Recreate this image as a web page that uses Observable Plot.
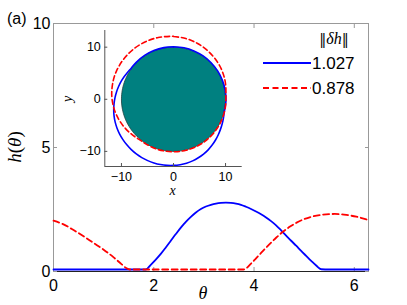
<!DOCTYPE html>
<html><head><meta charset="utf-8">
<script src="https://cdn.jsdelivr.net/npm/d3@7"></script>
<script src="https://cdn.jsdelivr.net/npm/@observablehq/plot@0.6"></script>
<style>
body{margin:0;background:#fff;}
#wrap{position:relative;width:407px;height:305px;overflow:hidden;background:#fff;}
#wrap svg{position:absolute;max-width:none;}
</style></head><body><div id="wrap"></div>
<script>
// ---- data ----
const blueTheta = [0,0.2,0.4,0.6,0.8,1.0,1.2,1.4,1.6,1.84,
  1.94,2.04,2.14,2.24,2.34,2.44,2.54,2.64,2.74,2.84,2.94,3.04,3.14,3.24,3.34,3.44,3.54,3.64,3.74,3.84,
  3.94,4.04,4.14,4.24,4.34,4.44,4.54,4.64,4.74,4.84,4.94,5.04,5.14,5.24,5.34,
  5.5,5.7,5.9,6.1,6.283];
const blueH = [0.08,0.08,0.08,0.08,0.08,0.08,0.08,0.08,0.08,0.08,
  0.27,0.48,0.71,0.97,1.24,1.51,1.77,2.0,2.2,2.38,2.52,2.62,2.69,2.74,2.77,2.78,2.77,2.74,2.69,2.61,
  2.52,2.42,2.31,2.18,2.03,1.86,1.66,1.45,1.24,1.04,0.83,0.63,0.43,0.24,0.09,
  0.08,0.08,0.08,0.08,0.08];
const redTheta = [0,0.2,0.4,0.6,0.8,1.0,1.2,1.35,1.45,1.52,
  1.7,1.9,2.1,2.3,2.5,2.7,2.9,3.1,3.3,3.5,3.7,3.79,
  3.94,4.04,4.17,4.31,4.44,4.57,4.71,4.84,5.01,5.17,5.37,5.61,5.84,6.04,6.24,6.283];
const redH = [2.05,1.90,1.67,1.42,1.15,0.88,0.57,0.31,0.14,0.08,
  0.08,0.08,0.08,0.08,0.08,0.08,0.08,0.08,0.08,0.08,0.08,0.08,
  0.32,0.53,0.81,1.10,1.36,1.59,1.80,1.96,2.12,2.22,2.29,2.32,2.28,2.21,2.10,2.07];
const seriesNorms = ["1.027", "0.878"];
const xTicks = [0, 2, 4, 6];
const yTicks = [0, 5, 10];
const insetTicks = [-10, 0, 10];
const baseRadius = 10;

// ---- styles ----
const BLUE = "#0000ff", RED = "#ff0000", TEAL = "#008080";
const DASH = "6,3.5";
const SANS = "'Liberation Sans', Arial, Helvetica, sans-serif";
const SERIF = "'Liberation Serif', 'Times New Roman', serif";

const blue = blueTheta.map((t, i) => ({t, h: blueH[i]}));
const red = redTheta.map((t, i) => ({t, h: redH[i]}));
const fmt = d3.format("d");

const wrap = document.getElementById("wrap");

// ---- main chart ----
const main = Plot.plot({
  width: 407, height: 305,
  marginLeft: 53, marginRight: 39, marginTop: 23, marginBottom: 34,
  style: {fontFamily: SANS, fontSize: "16px", background: "transparent", color: "#000"},
  x: {domain: [0, 2 * Math.PI]},
  y: {domain: [0, 10]},
  marks: [
    Plot.frame({stroke: "#999", strokeWidth: 1}),
    Plot.ruleY([0], {stroke: "#222", strokeWidth: 1}),
    Plot.axisX({ticks: xTicks, tickFormat: fmt, tickSize: -4, tickPadding: 12.6, fontSize: 16, stroke: "#999", fill: "#000", label: null}),
    Plot.axisX({anchor: "top", ticks: xTicks, tickSize: -4, tickFormat: () => "", stroke: "#999", label: null}),
    Plot.axisY({ticks: yTicks, tickFormat: fmt, tickSize: -4, tickPadding: 7, fontSize: 16, stroke: "#999", fill: "#000", label: null}),
    Plot.axisY({anchor: "right", ticks: yTicks, tickSize: -4, tickFormat: () => "", stroke: "#999", label: null}),
    Plot.line(blue, {x: "t", y: "h", stroke: BLUE, strokeWidth: 1.8, curve: "monotone-x"}),
    Plot.line(red, {x: "t", y: "h", stroke: RED, strokeWidth: 1.8, strokeDasharray: DASH, curve: "monotone-x"})
  ]
});
main.style.left = "0px"; main.style.top = "0px";
wrap.appendChild(main);

const ms = d3.select(main);
ms.append("text").attr("x", 7).attr("y", 24).attr("text-anchor", "start").attr("fill", "#000")
  .attr("font-family", SANS).attr("font-size", 16).text("(a)");
// axis titles
const yl = ms.append("text").attr("transform", "translate(21,147) rotate(-90)").attr("fill", "#000")
  .attr("text-anchor", "middle").attr("font-family", SERIF).attr("font-size", 19);
yl.append("tspan").attr("font-style", "italic").text("h");
yl.append("tspan").text("(");
yl.append("tspan").attr("font-style", "italic").text("θ");
yl.append("tspan").text(")");
ms.append("text").attr("x", 203).attr("y", 299).attr("text-anchor", "middle").attr("fill", "#000")
  .attr("font-family", SERIF).attr("font-style", "italic").attr("font-size", 18).text("θ");

// legend
const lg = ms.append("g");
const lt = lg.append("text").attr("x", 334).attr("y", 44).attr("text-anchor", "middle").attr("fill", "#000")
  .attr("font-family", SERIF).attr("font-size", 16);
lt.append("tspan").attr("font-family", "'DejaVu Serif', serif").attr("font-size", 14).text("‖");
lt.append("tspan").attr("font-style", "italic").text("δh");
lt.append("tspan").attr("font-family", "'DejaVu Serif', serif").attr("font-size", 14).text("‖");
const legendColors = [BLUE, RED], legendDash = [null, DASH];
seriesNorms.forEach((label, i) => {
  const yy = 63 + 25 * i;
  lg.append("line").attr("x1", 263).attr("x2", 311).attr("y1", yy).attr("y2", yy)
    .attr("stroke", legendColors[i]).attr("stroke-width", 1.8)
    .attr("stroke-dasharray", legendDash[i]);
  lg.append("text").attr("x", 312).attr("y", yy).attr("dy", "0.36em").attr("text-anchor", "start")
    .attr("fill", "#000").attr("font-family", SANS).attr("font-size", 17).text(label);
});

// ---- inset ----
const polar = (d) => ({x: (baseRadius + d.h) * Math.sin(d.t), y: (baseRadius + d.h) * Math.cos(d.t)});
const bluePolar = blue.map(polar);
const redPolar = red.map(polar);
const disk = d3.range(0, 2 * Math.PI, 0.04).map(t => polar({t, h: 0}));
const insetX = [-13.2, 13.2], insetY = [-12.9, 13.2];

const inset = Plot.plot({
  width: 190, height: 180,
  marginLeft: 44.3, marginRight: 8.3, marginTop: 5, marginBottom: 39,
  style: {fontFamily: SANS, fontSize: "12.5px", background: "transparent", color: "#000"},
  x: {domain: insetX},
  y: {domain: insetY},
  marks: [
    Plot.line(disk, {x: "x", y: "y", fill: TEAL, stroke: "#1d3d3d", strokeWidth: 0.8, curve: "linear-closed"}),
    Plot.line(bluePolar, {x: "x", y: "y", stroke: BLUE, strokeWidth: 1.6, curve: "catmull-rom"}),
    Plot.line(redPolar, {x: "x", y: "y", stroke: RED, strokeWidth: 1.6, strokeDasharray: "5,3", curve: "catmull-rom"}),
    Plot.ruleX([insetX[0]], {stroke: "#555"}),
    Plot.ruleY([insetY[0]], {stroke: "#555"}),
    Plot.axisX({ticks: insetTicks, tickFormat: fmt, tickSize: -3, tickPadding: 9, fontSize: 12.5, stroke: "#555", fill: "#000", label: null}),
    Plot.axisY({ticks: insetTicks, tickFormat: fmt, tickSize: -3, tickPadding: 7, fontSize: 12.5, stroke: "#555", fill: "#000", label: null})
  ]
});
inset.style.left = "60px"; inset.style.top = "25px";
wrap.appendChild(inset);
const is = d3.select(inset);
is.append("text").attr("x", 112.5).attr("y", 170).attr("text-anchor", "middle").attr("fill", "#000")
  .attr("font-family", SERIF).attr("font-style", "italic").attr("font-size", 14).text("x");
is.append("text").attr("transform", "translate(12,74) rotate(-90)").attr("text-anchor", "middle").attr("fill", "#000")
  .attr("font-family", SERIF).attr("font-style", "italic").attr("font-size", 14).text("y");
</script>
</body></html>
